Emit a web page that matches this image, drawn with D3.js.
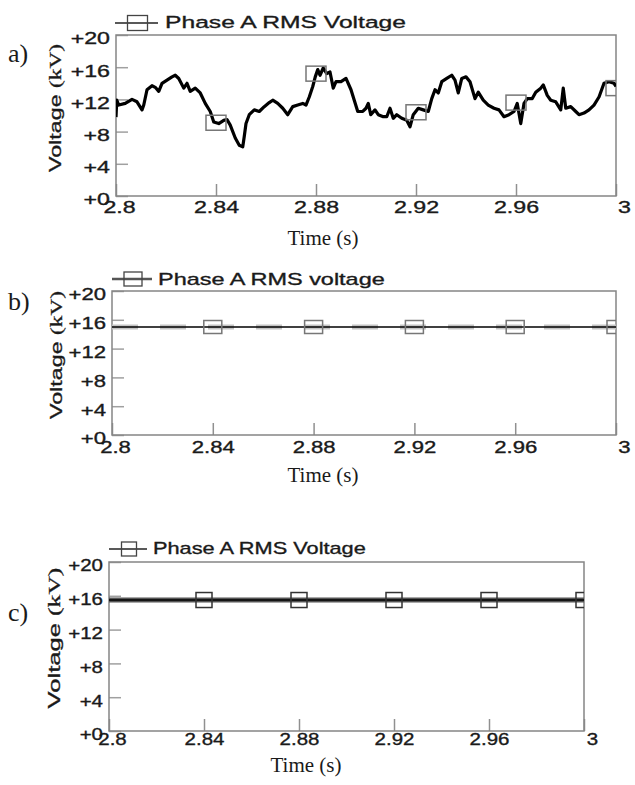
<!DOCTYPE html>
<html>
<head>
<meta charset="utf-8">
<script src="https://cdn.jsdelivr.net/npm/d3@7"></script>
<style>
  body { margin: 0; background: #fff; }
  svg { display: block; }
</style>
</head>
<body>
<div id="chart"></div>
<script>
// Phase A RMS voltage, three cases (a, b, c), time window 2.8 - 3.0 s

const timesA = [
  2.8000, 2.8003, 2.8011, 2.8037, 2.8064, 2.8084, 2.8104, 2.8111, 2.8124, 2.8144,
  2.8157, 2.8171, 2.8184, 2.8204, 2.8224, 2.8237, 2.8251, 2.8271, 2.8284, 2.8297,
  2.8317, 2.8337, 2.8357, 2.8377, 2.8391, 2.8411, 2.8431, 2.8444, 2.8457, 2.8477,
  2.8493, 2.8507, 2.8513, 2.8520, 2.8533, 2.8553, 2.8573, 2.8593, 2.8613, 2.8627,
  2.8647, 2.8667, 2.8687, 2.8707, 2.8727, 2.8747, 2.8760, 2.8773, 2.8787, 2.8797,
  2.8807, 2.8816, 2.8829, 2.8843, 2.8856, 2.8869, 2.8880, 2.8900, 2.8920, 2.8940,
  2.8953, 2.8967, 2.8987, 2.9000, 2.9009, 2.9019, 2.9036, 2.9049, 2.9069, 2.9083,
  2.9096, 2.9109, 2.9123, 2.9143, 2.9163, 2.9176, 2.9189, 2.9209, 2.9229, 2.9249,
  2.9263, 2.9276, 2.9289, 2.9303, 2.9323, 2.9343, 2.9356, 2.9369, 2.9383, 2.9400,
  2.9416, 2.9436, 2.9449, 2.9469, 2.9489, 2.9512, 2.9532, 2.9552, 2.9572, 2.9592,
  2.9605, 2.9619, 2.9632, 2.9645, 2.9665, 2.9679, 2.9699, 2.9709, 2.9725, 2.9739,
  2.9759, 2.9779, 2.9789, 2.9799, 2.9819, 2.9839, 2.9852, 2.9872, 2.9892, 2.9912,
  2.9932, 2.9952, 2.9972, 2.9992, 3.0000
];
const voltsA = [
  9.8, 11.9, 11.3, 11.5, 12.0, 11.7, 10.7, 11.3, 13.2, 13.7,
  13.5, 13.0, 14.0, 14.4, 14.8, 15.0, 14.6, 13.4, 14.0, 13.0,
  13.4, 12.8, 11.5, 10.5, 9.2, 9.0, 9.4, 9.5, 8.8, 7.2,
  6.3, 6.1, 7.4, 9.0, 10.1, 10.7, 10.5, 11.1, 11.6, 11.9,
  11.5, 10.9, 10.1, 11.1, 11.3, 11.5, 11.3, 12.3, 13.6, 14.8,
  15.7, 15.0, 15.9, 15.2, 15.4, 13.4, 14.2, 14.2, 14.6, 13.2,
  11.9, 10.5, 10.5, 10.9, 11.5, 10.1, 10.7, 10.1, 9.85, 9.85,
  10.9, 9.65, 10.1, 9.65, 9.4, 8.6, 10.1, 10.9, 10.7, 10.5,
  12.1, 13.2, 12.8, 14.2, 14.6, 15.0, 14.4, 12.8, 14.6, 14.8,
  14.2, 12.1, 12.9, 11.9, 11.3, 10.9, 10.7, 9.85, 10.1, 10.5,
  11.5, 9.0, 11.5, 12.1, 12.1, 12.9, 13.4, 13.8, 12.5, 11.9,
  11.7, 10.7, 13.4, 10.9, 11.1, 10.5, 10.1, 10.3, 10.7, 11.3,
  12.3, 14.0, 14.2, 14.0, 13.6
];

// marker positions (square symbols)
const markerTimes = [2.84, 2.88, 2.92, 2.96, 3.0];
const markerA = [9.1, 15.2, 10.4, 11.6, 13.4];

// panel b: flat RMS voltage
const timesB = [2.8, 3.0];
const voltsB = [15.0, 15.0];
const markerB = [15.0, 15.0, 15.0, 15.0, 15.0];

// panel c: flat RMS voltage
const timesC = [2.8, 3.0];
const voltsC = [15.5, 15.5];
const markerC = [15.5, 15.5, 15.5, 15.5, 15.5];

const xTicks = [2.8, 2.84, 2.88, 2.92, 2.96, 3.0];
const yTicks = [0, 4, 8, 12, 16, 20];
const panelLabels = ["a)", "b)", "c)"];
const legendLabels = ["Phase A RMS Voltage", "Phase A RMS voltage", "Phase A RMS Voltage"];

const sans = "'Liberation Sans', Arial, sans-serif";
const serif = "'Liberation Serif', 'Times New Roman', serif";
const ink = "#1a1a1a";

const width = 635, height = 785;

const svg = d3.select("#chart").append("svg")
  .attr("width", width)
  .attr("height", height);

// layout of each panel (pixel boxes, stretch of the sans text)
const layouts = [
  { left: 116, right: 616, top: 35, bottom: 196, sx: 1.45, xPad: 6,
    leg: { x1: 115, x2: 158, y: 23, w: 20, h: 15, tx: 165, ty: 28 },
    ylab: { x: 61, y: 108, len: 130 }, plab: { x: 8, y: 62 }, time: { x: 323, y: 245 },
    sq: { w: 20, h: 15 } },
  { left: 112, right: 616, top: 291, bottom: 435, sx: 1.38, xPad: 7,
    leg: { x1: 112, x2: 152, y: 279, w: 18, h: 14, tx: 158, ty: 285 },
    ylab: { x: 62, y: 355, len: 130 }, plab: { x: 8, y: 310 }, time: { x: 323, y: 482 },
    sq: { w: 18, h: 13 } },
  { left: 109, right: 584, top: 562, bottom: 731, sx: 1.28, xPad: 3,
    leg: { x1: 109, x2: 147, y: 549, w: 15, h: 14, tx: 153, ty: 554 },
    ylab: { x: 60, y: 638, len: 143 }, plab: { x: 8, y: 621 }, time: { x: 306, y: 772 },
    sq: { w: 16, h: 15 } }
];

const series = [
  { t: timesA, v: voltsA, m: markerA },
  { t: timesB, v: voltsB, m: markerB },
  { t: timesC, v: voltsC, m: markerC }
];

// text stretched horizontally like the scanned figure, slightly heavy
function wideText(g, x, y, str, sx, size) {
  return g.append("text")
    .attr("transform", `translate(${x},${y}) scale(${sx},1)`)
    .attr("font-family", sans)
    .attr("font-size", size)
    .attr("fill", ink)
    .attr("stroke", ink)
    .attr("stroke-width", 0.35)
    .text(str);
}

layouts.forEach((L, i) => {
  const s = series[i];
  const g = svg.append("g");

  const x = d3.scaleLinear().domain([2.8, 3.0]).range([L.left, L.right]);
  const y = d3.scaleLinear().domain([0, 20]).range([L.bottom, L.top]);

  const clipId = "clip" + i;
  svg.append("clipPath").attr("id", clipId)
    .append("rect")
    .attr("x", L.left).attr("y", L.top)
    .attr("width", L.right - L.left).attr("height", L.bottom - L.top);

  // axes: ticks pointing inward
  g.append("g")
    .attr("transform", `translate(${L.left},0)`)
    .call(d3.axisLeft(y).tickValues(yTicks).tickSize(-12).tickPadding(6)
      .tickFormat(d => "+" + d))
    .call(a => a.select(".domain").remove())
    .call(a => a.selectAll("line").attr("stroke", "#a0a0a0").attr("stroke-width", 1.5))
    .call(a => a.selectAll("text")
      .attr("font-family", sans).attr("font-size", 16).attr("fill", ink)
      .attr("stroke", ink).attr("stroke-width", 0.35)
      .attr("x", -6 / L.sx).attr("dy", "0.55em")
      .attr("transform", `scale(${L.sx},1)`));

  g.append("g")
    .attr("transform", `translate(0,${L.bottom})`)
    .call(d3.axisBottom(x).tickValues(xTicks).tickSize(-12).tickPadding(L.xPad)
      .tickFormat(d => String(+d.toFixed(2))))
    .call(a => a.select(".domain").remove())
    .call(a => a.selectAll("line").attr("stroke", "#909090").attr("stroke-width", 1.5))
    .call(a => a.selectAll("text")
      .attr("font-family", sans).attr("font-size", 16).attr("fill", ink)
      .attr("stroke", ink).attr("stroke-width", 0.35)
      .attr("dx", d => (d === 3 ? 8 : d === 2.8 ? 3 : 0) / L.sx)
      .attr("transform", `scale(${L.sx},1)`));

  // frame
  g.append("rect")
    .attr("x", L.left).attr("y", L.top)
    .attr("width", L.right - L.left).attr("height", L.bottom - L.top)
    .attr("fill", "none")
    .attr("stroke", "#858585")
    .attr("stroke-width", 1.5);

  const line = d3.line()
    .x((d, k) => x(s.t[k]))
    .y(d => y(d));

  const plot = g.append("g").attr("clip-path", `url(#${clipId})`);

  if (i === 1) {
    // faint wide trace behind the thin one
    plot.append("path")
      .datum(s.v)
      .attr("fill", "none")
      .attr("stroke", "#c4c4c4")
      .attr("stroke-width", 5)
      .attr("stroke-dasharray", "26,22")
      .attr("d", line);
  }
  if (i === 2) {
    plot.append("path")
      .datum(s.v)
      .attr("fill", "none")
      .attr("stroke", "#555")
      .attr("stroke-width", 5)
      .attr("d", line);
  }

  plot.append("path")
    .datum(s.v)
    .attr("fill", "none")
    .attr("stroke", "#000")
    .attr("stroke-width", i === 0 ? 3.2 : 1.6)
    .attr("stroke-linejoin", "round")
    .attr("d", line);

  plot.selectAll(".mk")
    .data(s.m)
    .join("rect")
    .attr("class", "mk")
    .attr("x", (d, k) => x(markerTimes[k]) - L.sq.w / 2)
    .attr("y", d => y(d) - L.sq.h / 2)
    .attr("width", L.sq.w)
    .attr("height", L.sq.h)
    .attr("fill", "none")
    .attr("stroke", i === 2 ? "#333" : "#777")
    .attr("stroke-width", 1.5);

  // legend
  g.append("line")
    .attr("x1", L.leg.x1).attr("x2", L.leg.x2)
    .attr("y1", L.leg.y).attr("y2", L.leg.y)
    .attr("stroke", i === 1 ? "#555" : "#222")
    .attr("stroke-width", i === 1 ? 2.5 : 1.5);
  g.append("rect")
    .attr("x", (L.leg.x1 + L.leg.x2) / 2 - L.leg.w / 2 + 1)
    .attr("y", L.leg.y - L.leg.h / 2)
    .attr("width", L.leg.w).attr("height", L.leg.h)
    .attr("fill", "none")
    .attr("stroke", "#444")
    .attr("stroke-width", 1.3);
  wideText(g, L.leg.tx, L.leg.ty, legendLabels[i], L.sx, 17);

  // y label: sans "Voltage", serif "(kV)"
  const yl = g.append("text")
    .attr("transform", `translate(${L.ylab.x},${L.ylab.y}) rotate(-90) scale(${L.ylab.len / 95},1)`)
    .attr("text-anchor", "middle")
    .attr("font-size", 17)
    .attr("fill", ink)
    .attr("stroke", ink)
    .attr("stroke-width", 0.3);
  yl.append("tspan").attr("font-family", sans).text("Voltage ");
  yl.append("tspan").attr("font-family", serif).text("(kV)");

  // x label
  g.append("text")
    .attr("x", L.time.x).attr("y", L.time.y)
    .attr("text-anchor", "middle")
    .attr("font-family", serif)
    .attr("font-size", 21)
    .attr("fill", ink)
    .text("Time (s)");

  // panel letter
  g.append("text")
    .attr("x", L.plab.x).attr("y", L.plab.y)
    .attr("font-family", serif)
    .attr("font-size", 26)
    .attr("fill", ink)
    .text(panelLabels[i]);
});
</script>
</body>
</html>
